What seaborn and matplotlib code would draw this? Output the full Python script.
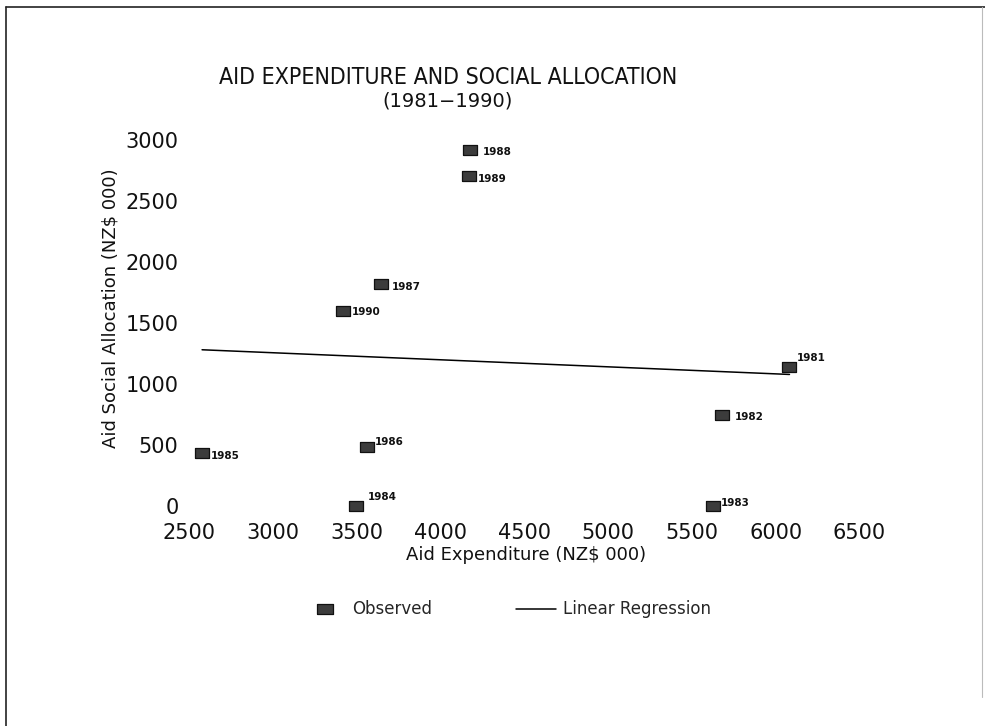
import matplotlib
matplotlib.use("Agg")
import matplotlib.pyplot as plt
from matplotlib.lines import Line2D
import numpy as np
import pandas as pd
import seaborn as sns

# Aid expenditure vs. social allocation, NZ$ 000, by year
years = [1981, 1982, 1983, 1984, 1985, 1986, 1987, 1988, 1989, 1990]
aid_expenditure = [6082, 5682, 5625, 3494, 2575, 3557, 3643, 4172, 4169, 3416]
social_allocation = [1141, 743, 0, 0, 439, 488, 1822, 2922, 2705, 1601]

x_ticks = [2500, 3000, 3500, 4000, 4500, 5000, 5500, 6000, 6500]
y_ticks = [0, 500, 1000, 1500, 2000, 2500, 3000]

df = pd.DataFrame({"year": years, "expenditure": aid_expenditure,
                   "social": social_allocation})

# year-label placement around each marker (pixels, from marker centre)
label_offsets = {1981: (7.5, 8.5), 1982: (12.5, -2), 1983: (7.5, 3),
                 1984: (11.5, 8.5), 1985: (8.5, -3.5), 1986: (8.5, 4.5),
                 1987: (10.5, -3), 1988: (13.5, -2), 1989: (8.5, -2.5),
                 1990: (8.5, -1.5)}

sns.set_style("white")
plt.rcParams["font.family"] = ["DejaVu Sans"]

W, H = 985, 726
fig = plt.figure(figsize=(W / 100, H / 100), dpi=100)
ax = fig.add_axes([189.5 / W, (H - 506) / H, 670 / W, 365.5 / H])

rect_marker = [(-1.6, -1), (1.6, -1), (1.6, 1), (-1.6, 1), (-1.6, -1)]

sns.regplot(data=df, x="expenditure", y="social", scatter=False, ci=None,
            color="black", line_kws={"lw": 1.1}, ax=ax,
            label="Linear Regression")
sns.scatterplot(data=df, x="expenditure", y="social", marker=rect_marker,
                s=110, color="#3c3c3c", edgecolor="#111111", linewidth=0.9,
                ax=ax, label="Observed", zorder=3, clip_on=False)

for yr, xv, yv in zip(years, aid_expenditure, social_allocation):
    dx, dy = label_offsets[yr]
    ax.annotate(str(yr), (xv, yv), xytext=(dx, dy),
                textcoords="offset pixels", ha="left", va="center",
                fontsize=7.5, fontweight="bold", color="#111111",
                annotation_clip=False)

ax.set_xlim(x_ticks[0], x_ticks[-1])
ax.set_ylim(y_ticks[0], y_ticks[-1])
ax.set_xticks(x_ticks)
ax.set_yticks(y_ticks)
ax.tick_params(axis="both", length=0, labelsize=15, colors="#111111")
ax.tick_params(axis="x", pad=12)
ax.tick_params(axis="y", pad=8)
ax.set_xlabel("")
ax.set_ylabel("")
sns.despine(ax=ax, left=True, bottom=True)
if ax.get_legend() is not None:
    ax.get_legend().remove()

fig.text(448.5 / W, 1 - 78 / H, "AID EXPENDITURE AND SOCIAL ALLOCATION",
         ha="center", va="center", fontsize=16.6, color="#111111",
         fontstretch="condensed")
fig.text(448 / W, 1 - 101 / H, "(1981\u22121990)", ha="center", va="center",
         fontsize=14, color="#111111")
fig.text(526 / W, 1 - 555 / H, "Aid Expenditure (NZ$ 000)", ha="center",
         va="center", fontsize=13, color="#111111")
fig.text(111 / W, 1 - 308 / H, "Aid Social Allocation (NZ$ 000)",
         ha="center", va="center", rotation=90, fontsize=13,
         color="#111111")

handles = [
    Line2D([], [], marker=rect_marker, markersize=11, color="none",
           markerfacecolor="#3c3c3c", markeredgecolor="#111111",
           markeredgewidth=0.9, linestyle="none"),
    Line2D([], [], color="black", lw=1.1),
]
fig.legend(handles, ["Observed", "Linear Regression"], loc="center",
           bbox_to_anchor=(508 / W, 1 - 609.5 / H), ncol=2, frameon=False,
           fontsize=12, handlelength=2.4, handletextpad=0.45,
           columnspacing=5.0)

# page frame
frame_kw = dict(transform=fig.transFigure, color="#222222", lw=1.2)
fig.add_artist(Line2D([6 / W, 6 / W], [0, 1 - 7 / H], **frame_kw))
fig.add_artist(Line2D([6 / W, 1], [1 - 7 / H, 1 - 7 / H], **frame_kw))
fig.add_artist(Line2D([982 / W, 982 / W], [0.04, 1 - 7 / H],
                      transform=fig.transFigure, color="#bbbbbb", lw=0.8))

fig.savefig("out.png", dpi=100)
